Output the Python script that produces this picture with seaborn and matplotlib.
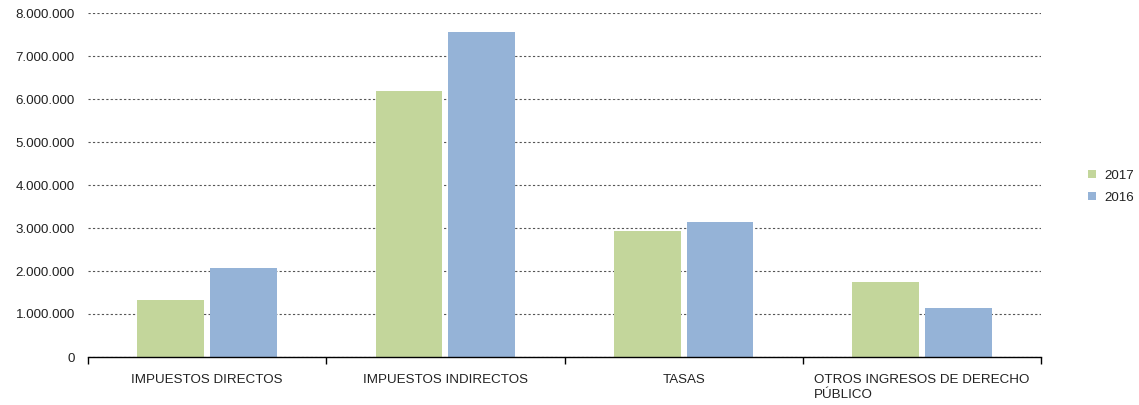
import pandas as pd
import numpy as np
import matplotlib.pyplot as plt
import seaborn as sns
from matplotlib.ticker import FuncFormatter, FixedLocator

# ==========================================================
# DATA
# ==========================================================

categories = [
    "IMPUESTOS DIRECTOS",
    "IMPUESTOS INDIRECTOS",
    "TASAS",
    "OTROS INGRESOS DE DERECHO\nPÚBLICO",
]
years = ["2017", "2016"]
values_2017 = [1320000, 6190000, 2930000, 1740000]
values_2016 = [2070000, 7560000, 3140000, 1140000]

df = pd.DataFrame({
    "categoria": categories * 2,
    "anio": [years[0]] * 4 + [years[1]] * 4,
    "valor": values_2017 + values_2016,
})

# ==========================================================
# PLOT
# ==========================================================

sns.set_theme(style="white")
plt.rcParams["font.family"] = ["Liberation Sans", "DejaVu Sans"]

fig = plt.figure(figsize=(11.39, 4.05), dpi=100)
ax = fig.add_axes([88 / 1139, 1 - 357 / 405, 953 / 1139, 344 / 405])

sns.barplot(
    data=df,
    x="categoria",
    y="valor",
    hue="anio",
    hue_order=years,
    palette=["#c3d69b", "#95b3d7"],
    width=0.61,
    gap=0.08,
    saturation=1,
    linewidth=0,
    ax=ax,
)

ax.set_xlim(-0.5, 3.5)
ax.set_ylim(0, 8000000)
ax.set_yticks(np.arange(0, 8000001, 1000000))
ax.yaxis.set_major_formatter(
    FuncFormatter(lambda v, p: f"{int(v):,}".replace(",", "."))
)
ax.grid(axis="y", linestyle=(0, (2, 2)), color="#555555", linewidth=0.8)
ax.set_axisbelow(True)

for s in ["top", "right", "left"]:
    ax.spines[s].set_visible(False)
ax.spines["bottom"].set_color("black")
ax.spines["bottom"].set_linewidth(1)

ax.tick_params(axis="y", length=0, labelsize=9.6, pad=9.5, colors="#222222")
ax.tick_params(axis="x", length=0, labelsize=9.6, pad=12, colors="#222222")
for lbl in ax.get_xticklabels():
    lbl.set_multialignment("left")
    lbl.set_verticalalignment("top")
    lbl.set_linespacing(1.35)

ax.xaxis.set_minor_locator(FixedLocator([-0.5, 0.5, 1.5, 2.5, 3.5]))
ax.tick_params(axis="x", which="minor", bottom=True, length=5, width=1,
               direction="out", color="black")

ax.set_xlabel("")
ax.set_ylabel("")

leg = ax.legend(
    title=None,
    loc="center left",
    bbox_to_anchor=(1.037, 0.495),
    frameon=False,
    fontsize=9.6,
    handlelength=0.6,
    handleheight=0.6,
    handletextpad=0.6,
    labelspacing=0.75,
)
for t in leg.get_texts():
    t.set_color("#222222")

plt.savefig("out.png", dpi=100)
